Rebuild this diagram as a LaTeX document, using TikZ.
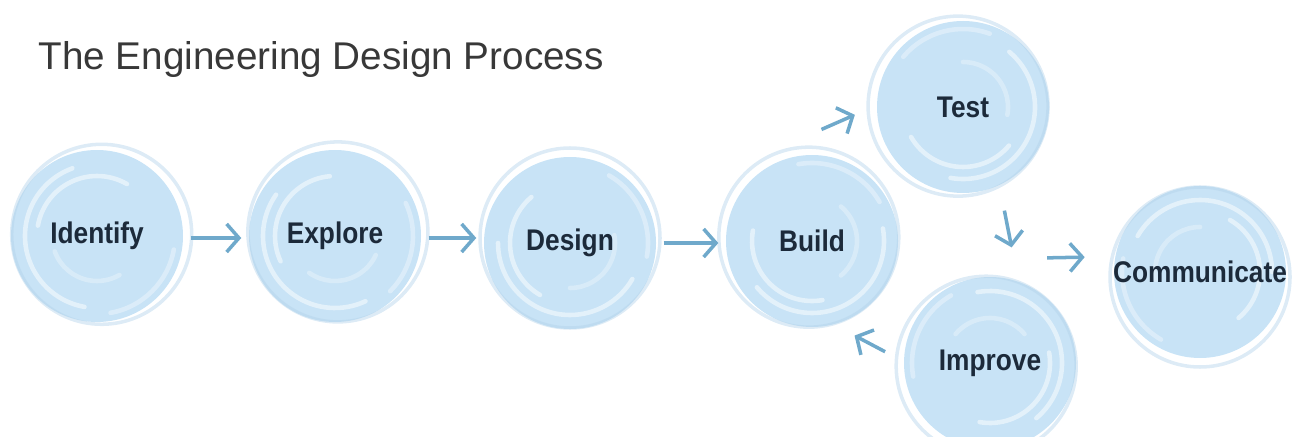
\documentclass[tikz,border=0pt]{standalone}
\usepackage{fontspec}
\setmainfont{Liberation Sans}
\newfontfamily\stagefont[FakeStretch=0.88]{Liberation Sans}
\usepackage{tikz}
\usetikzlibrary{arrows.meta,backgrounds}
\definecolor{blobblue}{HTML}{C8E3F6}
\definecolor{ringblue}{HTML}{B4D3EA}
\definecolor{flowblue}{HTML}{6FA9CB}
\definecolor{inkblue}{HTML}{1C2A3A}
\definecolor{titlegray}{HTML}{383838}
% watercolour disc behind a stage node: #1 node, #2 turn of the swirls
\newcommand{\blob}[2]{%
  \fill[blobfill] (#1.center) circle (0.86);
  \draw[ringout] ([shift={(#2+20:0.05)}]#1.center) circle (0.9);
  \draw[swirl] (#1.center) ++(#2+110:0.72) arc (#2+110:#2+260:0.72);
  \draw[swirl] (#1.center) ++(#2+60:0.6) arc (#2+60:#2+170:0.6);
  \draw[swirl,opacity=.35] (#1.center) ++(#2+280:0.78) arc (#2+280:#2+350:0.78);
  \draw[swirl,opacity=.3] (#1.center) ++(#2+200:0.45) arc (#2+200:#2+300:0.45);
}

\begin{document}
\begin{tikzpicture}[>=Stealth,
  stage/.style={circle,minimum size=1.72cm,inner sep=0pt,text=inkblue,font=\stagefont\fontsize{8.5}{10}\selectfont\bfseries},
  blobfill/.style={fill=blobblue},
  ringout/.style={draw=ringblue,line width=1pt,opacity=.45},
  swirl/.style={draw=white,line width=1.3pt,opacity=.5,line cap=round},
  flow/.style={draw=flowblue,line width=1pt,-{Straight Barb[length=3.5pt,width=8pt]},shorten <=2pt,shorten >=2pt}]
\useasboundingbox (0,0) rectangle (13.03,4.36);
\node[anchor=base west,text=titlegray,font=\fontsize{11}{13}\selectfont] (title) at (0.26,3.66) {The Engineering Design Process};
% the seven stages
\node[stage] (identify) at (0.97,2.00) {Identify};
\node[stage] (explore) at (3.35,2.00) {Explore};
\node[stage] (design) at (5.70,1.93) {Design};
\node[stage] (build) at (8.12,1.95) {Build};
\node[stage] (test) at (9.63,3.29) {Test};
\node[stage] (improve) at (9.90,0.73) {Improve};
\node[stage] (communicate) at (12.00,1.64) {Communicate};
\begin{scope}[on background layer]
\foreach \n/\t in {identify/0,explore/35,design/70,build/110,test/150,improve/200,communicate/250}{\blob{\n}{\t}}
\end{scope}
% arrows
\draw[flow] ([yshift=-0.02cm]identify.east) -- ([yshift=-0.02cm]identify.east -| explore.west);
\draw[flow] ([yshift=-0.02cm]explore.east) -- ([yshift=-0.02cm]explore.east -| design.west);
\draw[flow] (design.east) -- (design.east -| build.west);
\draw[flow] ([shift={(0.03,0.22)}]build.north) -- ([shift={(-0.15,-0.05)}]test.west);
\draw[flow] ([shift={(0.4,-0.1)}]test.south) -- ([shift={(0.23,0.22)}]improve.north);
\draw[flow] ([shift={(-0.12,0.08)}]improve.west) -- ([shift={(-0.25,-0.3)}]build.south east);
\coordinate (loopout) at (10.40,1.78);
\draw[flow] (loopout) -- ([shift={(-0.2,0.15)}]communicate.west);
\end{tikzpicture}
\end{document}
